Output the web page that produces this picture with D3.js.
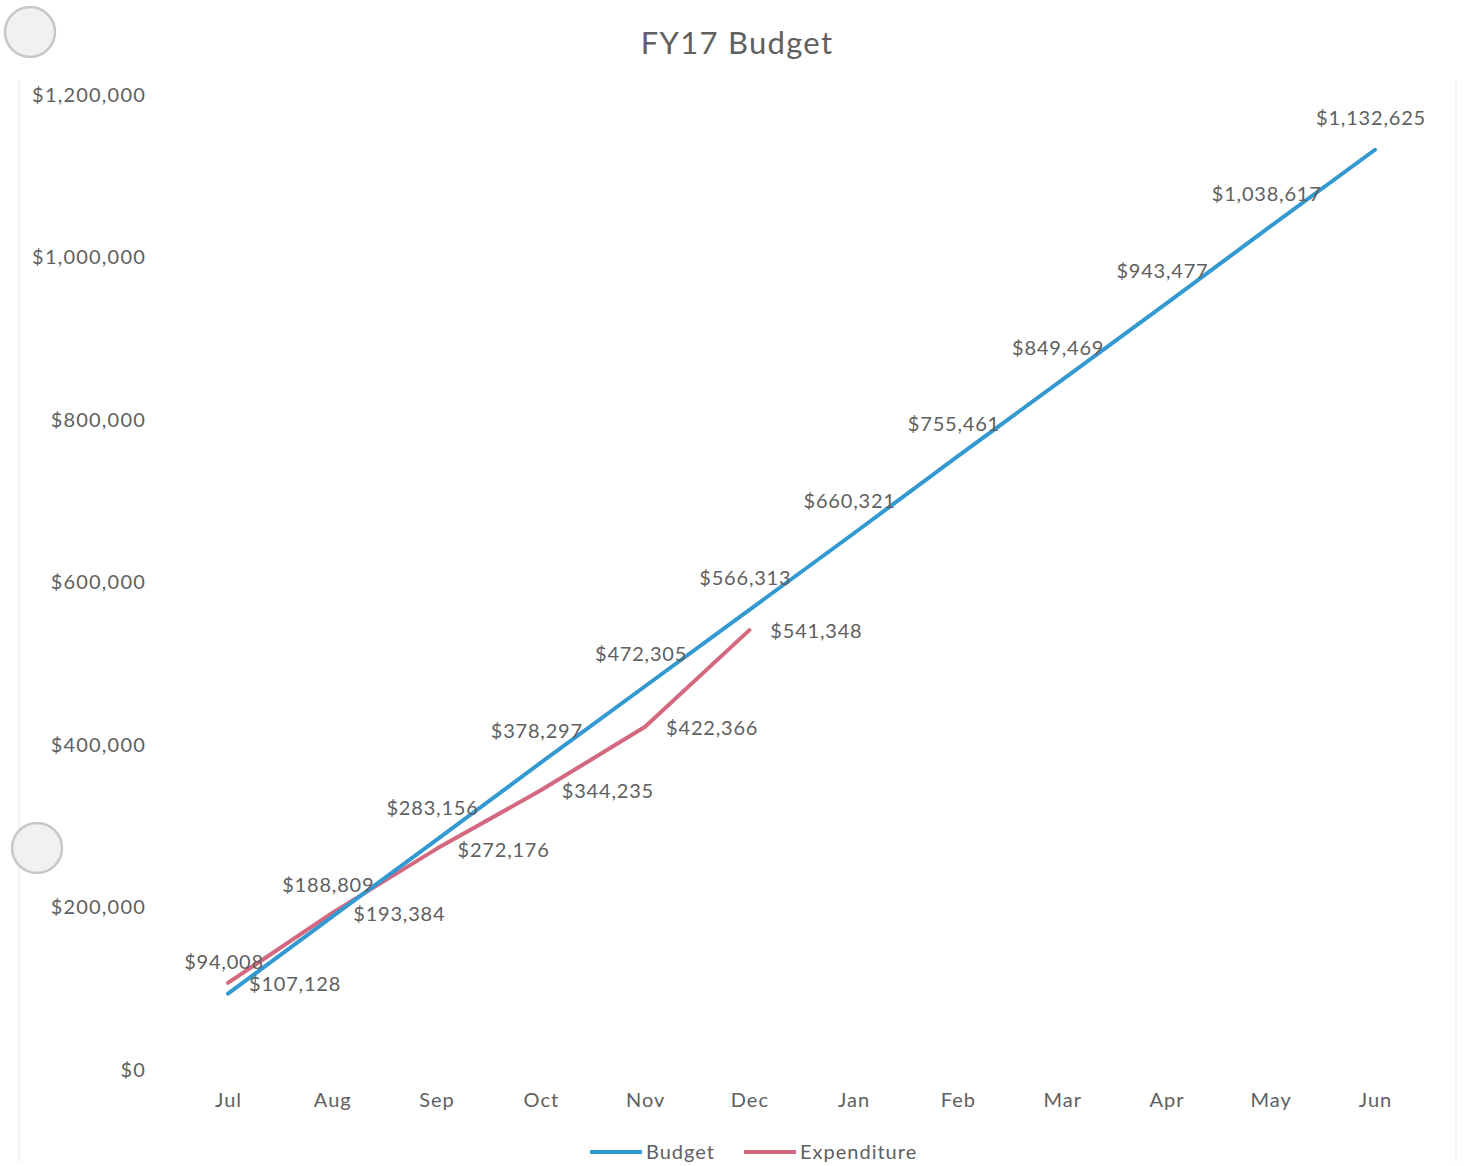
<!DOCTYPE html>
<html>
<head>
<meta charset="utf-8">
<script src="https://cdn.jsdelivr.net/npm/d3@7"></script>
<style>
  body { margin: 0; background: #fff; }
  svg { display: block; font-family: Lato, "Open Sans", sans-serif; }
</style>
</head>
<body>
<svg></svg>
<script>
// chart data
let months = ['Jul', 'Aug', 'Sep', 'Oct', 'Nov', 'Dec', 'Jan', 'Feb', 'Mar', 'Apr', 'May', 'Jun']
let budget = [94008, 188809, 283156, 378297, 472305, 566313, 660321, 755461, 849469, 943477, 1038617, 1132625]
let expenditure = [107128, 193384, 272176, 344235, 422366, 541348]
let yTicks = [0, 200000, 400000, 600000, 800000, 1000000, 1200000]
let seriesNames = ['Budget', 'Expenditure']

let width = 1465
let height = 1166
let blue = '#3399d1'
let pink = '#d4687f'
let textColor = '#606060'

let xScale
let yScale

let svg = d3.select('svg')

let createCanvas = () => {
    svg.attr('width', width)
    svg.attr('height', height)

    // faint chart frame, the scan only keeps the sides
    svg.append('path')
        .attr('d', 'M19,80 V1162 M1456,80 V1162')
        .attr('fill', 'none')
        .attr('stroke', '#f3f3f3')
        .attr('stroke-width', 2)

    // punch holes from the scanned page
    let holes = [[30, 32], [37, 848]]
    svg.selectAll('circle.hole')
        .data(holes)
        .enter()
        .append('circle')
        .attr('class', 'hole')
        .attr('cx', d => d[0])
        .attr('cy', d => d[1])
        .attr('r', 25)
        .attr('fill', '#f1f1f1')
        .attr('stroke', '#cbc6c2')
        .attr('stroke-width', 2.5)

    svg.append('text')
        .attr('x', 737)
        .attr('y', 54)
        .attr('text-anchor', 'middle')
        .attr('font-size', 31)
        .attr('letter-spacing', 1.3)
        .attr('fill', textColor)
        .text('FY17 Budget')
}

let createScales = () => {
    xScale = d3.scalePoint()
                .domain(months)
                .range([228, 1375])

    yScale = d3.scaleLinear()
                .domain([0, 1200000])
                .range([1070, 95])
}

let createAxis = () => {
    let fmt = d3.format('$,')
    let yAxis = d3.axisLeft(yScale)
                .tickValues(yTicks)
                .tickFormat(fmt)
                .tickSize(0)
                .tickPadding(0)

    let yg = svg.append('g')
        .attr('id', 'y-axis')
        .attr('transform', 'translate(146, 0)')
        .call(yAxis)
    yg.select('.domain').remove()
    yg.selectAll('text')
        .attr('font-size', 20)
        .attr('letter-spacing', 1.2)
        .attr('font-family', 'Lato, sans-serif')
        .attr('fill', textColor)

    let xAxis = d3.axisBottom(xScale)
                .tickSize(0)
                .tickPadding(0)

    let xg = svg.append('g')
        .attr('id', 'x-axis')
        .attr('transform', 'translate(0, 1093)')
        .call(xAxis)
    xg.select('.domain').remove()
    xg.selectAll('text')
        .attr('font-size', 20)
        .attr('letter-spacing', 1)
        .attr('font-family', 'Lato, sans-serif')
        .attr('fill', textColor)
}

let createLines = () => {
    let line = d3.line()
                .x((d, i) => xScale(months[i]))
                .y(d => yScale(d))

    svg.append('path')
        .datum(expenditure)
        .attr('d', line)
        .attr('fill', 'none')
        .attr('stroke', pink)
        .attr('stroke-width', 4)
        .attr('stroke-linecap', 'round')
        .attr('stroke-linejoin', 'round')

    svg.append('path')
        .datum(budget)
        .attr('d', line)
        .attr('fill', 'none')
        .attr('stroke', blue)
        .attr('stroke-width', 4)
        .attr('stroke-linecap', 'round')
        .attr('stroke-linejoin', 'round')
}

let createLabels = () => {
    let fmt = d3.format('$,')

    // budget labels sit above the point
    svg.selectAll('text.budget-label')
        .data(budget)
        .enter()
        .append('text')
        .attr('class', 'budget-label')
        .attr('x', (d, i) => xScale(months[i]) - 4)
        .attr('y', d => yScale(d) - 25)
        .attr('text-anchor', 'middle')
        .attr('font-size', 20)
        .attr('letter-spacing', 0.8)
        .attr('fill', textColor)
        .text(d => fmt(d))

    // expenditure labels sit to the right
    svg.selectAll('text.exp-label')
        .data(expenditure)
        .enter()
        .append('text')
        .attr('class', 'exp-label')
        .attr('x', (d, i) => xScale(months[i]) + 21)
        .attr('y', d => yScale(d) + 8)
        .attr('text-anchor', 'start')
        .attr('font-size', 20)
        .attr('letter-spacing', 0.8)
        .attr('fill', textColor)
        .text(d => fmt(d))
}

let createLegend = () => {
    let colors = [blue, pink]
    let xs = [590, 744]
    let g = svg.selectAll('g.legend')
        .data(seriesNames)
        .enter()
        .append('g')
        .attr('class', 'legend')
        .attr('transform', (d, i) => 'translate(' + xs[i] + ', 1152)')

    g.append('line')
        .attr('x1', 0).attr('x2', 52)
        .attr('y1', 0).attr('y2', 0)
        .attr('stroke', (d, i) => colors[i])
        .attr('stroke-width', 4)

    g.append('text')
        .attr('x', 56)
        .attr('y', 7)
        .attr('font-size', 20)
        .attr('letter-spacing', 1)
        .attr('fill', textColor)
        .text(d => d)
}

createCanvas()
createScales()
createLines()
createLabels()
createAxis()
createLegend()
</script>
</body>
</html>
